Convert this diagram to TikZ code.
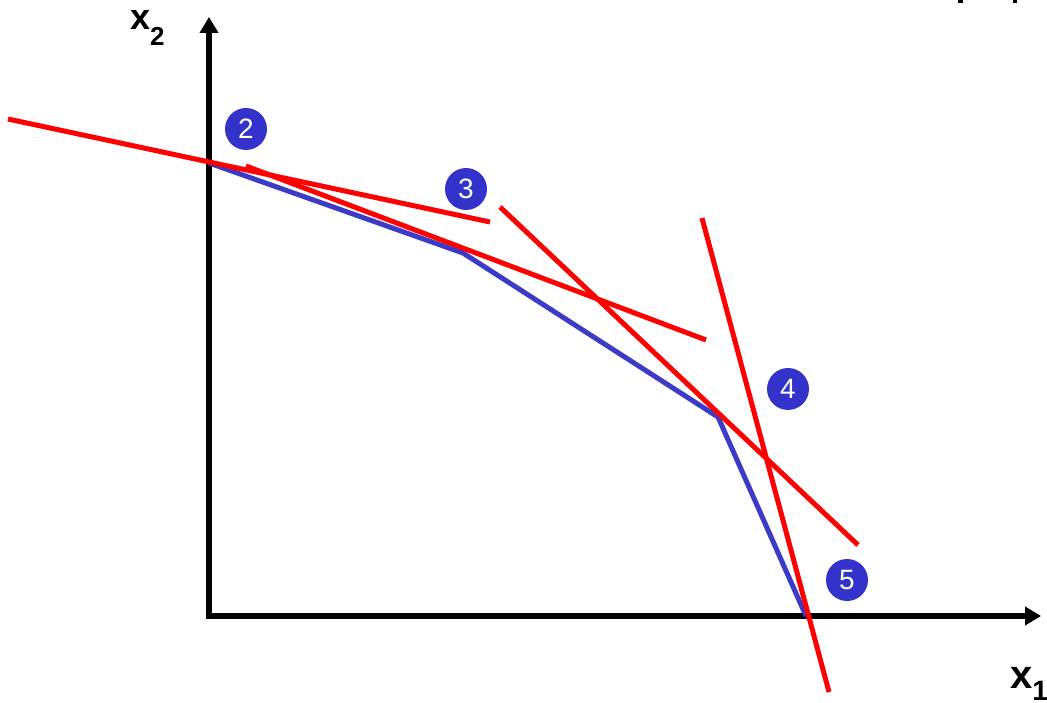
\documentclass[tikz,border=0pt]{standalone}
\usepackage{fontspec}
\setmainfont{Liberation Sans}
\usetikzlibrary{arrows.meta}
\definecolor{lineblue}{HTML}{3B3BC8}
\definecolor{dotblue}{HTML}{3333CC}
\tikzset{
  axis/.style={line width=6.5pt, -{Triangle[length=16pt,width=18pt]}},
  cut/.style={line width=5pt, red},
  hull/.style={line width=5pt, lineblue, line join=miter},
  badge/.style={circle, fill=dotblue, minimum size=42pt, inner sep=0pt, text=white, font=\fontsize{28}{28}\selectfont},
  axlabel/.style={inner sep=0pt, anchor=base west, font=\bfseries}
}
\begin{document}
\begin{tikzpicture}[x=1pt,y=-1pt]
\useasboundingbox (0,0) rectangle (1047,703);
% partial cut-off text marks at top
\fill (958,0) rectangle (963,3);
\fill (1013,0) rectangle (1017,3);
% axes
\coordinate (ytip) at (209,17);
\coordinate (xtip) at (1041,616);
\draw[axis] (209,619) -- (ytip);
\draw[axis] (206,616) -- (xtip);
\node[axlabel] (xtwo) at (130,30) {\fontsize{36}{36}\selectfont x\raisebox{-16pt}{\fontsize{26}{26}\selectfont 2}};
\node[axlabel] (xone) at (1010,688) {\fontsize{40}{40}\selectfont x\raisebox{-12pt}{\fontsize{28}{28}\selectfont 1}};
% hull
\coordinate (p1) at (209,163);
\coordinate (p2) at (463,253);
\coordinate (p3) at (718,417);
\coordinate (p4) at (806,616);
\draw[hull] (p1) -- (p2) -- (p3) -- (p4);
% cuts
\coordinate (a1) at (8,119);   \coordinate (a2) at (490,222);
\coordinate (b1) at (246,166); \coordinate (b2) at (706,340);
\coordinate (c1) at (500,207); \coordinate (c2) at (858,545);
\coordinate (d1) at (702,218); \coordinate (d2) at (829,692);
\draw[cut] (a1) -- (a2);
\draw[cut] (b1) -- (b2);
\draw[cut] (c1) -- (c2);
\draw[cut] (d1) -- (d2);
% badges
\node[badge] (n2) at (246,129) {2};
\node[badge] (n3) at (466,189) {3};
\node[badge] (n4) at (788,389) {4};
\node[badge] (n5) at (847,580) {5};
\end{tikzpicture}
\end{document}
